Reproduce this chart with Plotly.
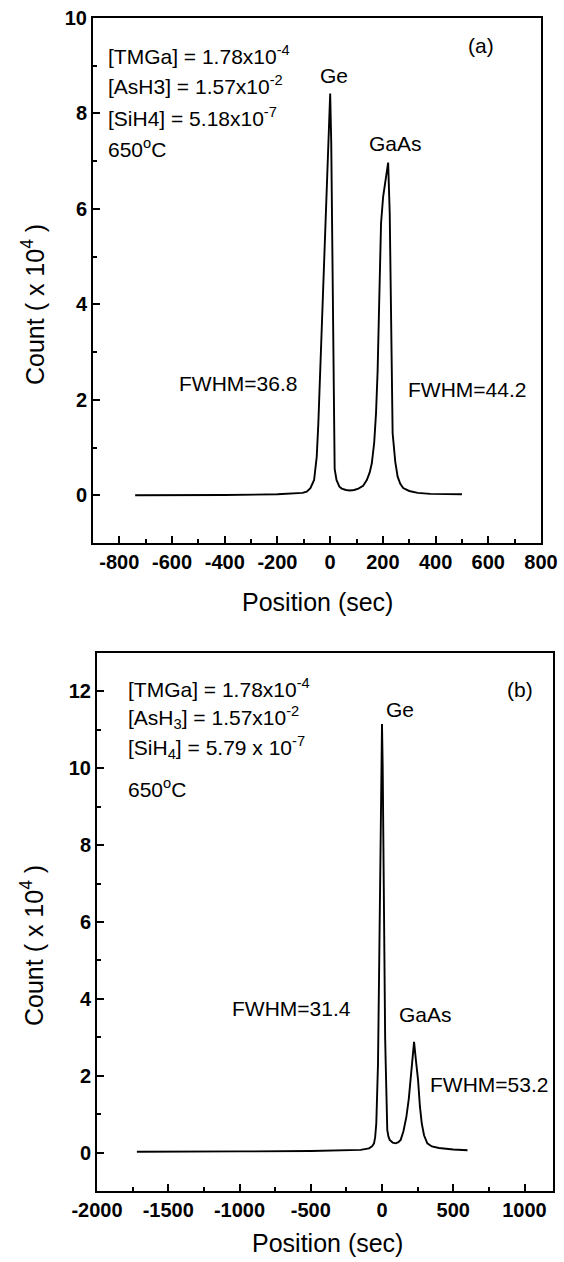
import plotly.graph_objects as go

# Panel (a): depth profile, [SiH4] = 5.18e-7
pos_a = [-740, -600, -400, -200, -150, -105, -89, -75, -61, -56, -51, -45, -39, -27,
         -13, 0, 4, 9, 12, 14, 17, 24, 35, 44, 60, 75, 91, 107, 125, 139, 150, 158,
         167, 174, 180, 185, 189, 193, 201, 220, 226, 230, 233, 237, 247, 256, 266,
         277, 300, 332, 380, 440, 500]
count_a = [0.0, 0.0, 0.005, 0.02, 0.03, 0.05, 0.075, 0.15, 0.32, 0.55, 0.81, 1.5, 2.41, 4.51,
           6.5, 8.42, 7.4, 4.5, 2.4, 0.9, 0.55, 0.32, 0.18, 0.14, 0.11, 0.10, 0.11, 0.14, 0.20, 0.32, 0.48, 0.67,
           1.1, 1.72, 2.6, 3.8, 4.6, 5.7, 6.26, 6.97, 5.9, 4.5, 3.4, 1.3, 0.7, 0.39, 0.24,
           0.15, 0.09, 0.05, 0.03, 0.02, 0.02]

# Panel (b): [SiH4] = 5.79e-7
pos_b = [-1720, -1500, -1000, -500, -300, -150, -91, -70, -56, -48, -40, -34, -28, -21,
         -12, -5, 0, 5, 10, 16, 22, 26, 31, 37, 45, 54, 75, 96, 115, 131, 150, 171,
         188, 201, 215, 225, 238, 253, 266, 279, 295, 318, 350, 400, 500, 600]
count_b = [0.02, 0.02, 0.03, 0.04, 0.05, 0.07, 0.11, 0.16, 0.24, 0.4, 0.76, 1.4, 2.32, 4.5,
           7.5, 10.0, 11.15, 10.0, 7.5, 4.5, 3.0, 2.32, 1.3, 0.59, 0.42, 0.33, 0.26, 0.24, 0.27, 0.33, 0.55, 0.93,
           1.4, 1.89, 2.45, 2.88, 2.4, 1.89, 1.2, 0.76, 0.45, 0.24, 0.16, 0.12, 0.08, 0.06]

# tick positions and labels (plain hyphen for negatives)
xticks_a = [-800, -600, -400, -200, 0, 200, 400, 600, 800]
xlabels_a = ["-800", "-600", "-400", "-200", "0", "200", "400", "600", "800"]
yticks_a = [0, 2, 4, 6, 8, 10]
xticks_b = [-2000, -1500, -1000, -500, 0, 500, 1000]
xlabels_b = ["-2000", "-1500", "-1000", "-500", "0", "500", "1000"]
yticks_b = [0, 2, 4, 6, 8, 10, 12]

params_a = ["[TMGa] = 1.78x10<sup>-4</sup>", "[AsH3] = 1.57x10<sup>-2</sup>",
            "[SiH4] = 5.18x10<sup>-7</sup>", "650<sup>o</sup>C"]
params_b = ["[TMGa] = 1.78x10<sup>-4</sup>", "[AsH<sub>3</sub>] = 1.57x10<sup>-2</sup>",
            "[SiH<sub>4</sub>] = 5.79 x 10<sup>-7</sup>", "650<sup>o</sup>C"]

W, H = 564, 1262
FONT = "Liberation Sans, Arial, Helvetica, sans-serif"


def px(x):
    return x / W


def py(y):
    return 1 - y / H


fig = go.Figure()
fig.add_trace(go.Scatter(x=pos_a, y=count_a, mode="lines",
                         line=dict(color="black", width=1.9), xaxis="x", yaxis="y"))
fig.add_trace(go.Scatter(x=pos_b, y=count_b, mode="lines",
                         line=dict(color="black", width=1.9), xaxis="x2", yaxis="y2"))

axis_common = dict(showline=True, linewidth=2, linecolor="black", mirror=True,
                   ticks="inside", ticklen=7, tickwidth=1.5, tickcolor="black",
                   showgrid=False, zeroline=False, automargin=False,
                   tickfont=dict(family=FONT, size=20, color="black", weight="bold"))


def minor(step):
    return dict(ticks="inside", ticklen=4, tickwidth=1.5, dtick=step, tickcolor="black")


fig.update_layout(
    width=W, height=H, autosize=False,
    margin=dict(l=0, r=0, t=0, b=0),
    paper_bgcolor="white", plot_bgcolor="white",
    showlegend=False,
    xaxis=dict(domain=[px(93), px(541)], range=[-900, 800], tickmode="array",
               tickvals=xticks_a, ticktext=xlabels_a, anchor="y",
               minor=dict(minor(100), tick0=-900), **axis_common),
    yaxis=dict(domain=[py(543), py(18)], range=[-1, 10], tickmode="array",
               tickvals=yticks_a, anchor="x", minor=minor(1), **axis_common),
    xaxis2=dict(domain=[px(97), px(553)], range=[-2000, 1200], tickmode="array",
                tickvals=xticks_b, ticktext=xlabels_b, anchor="y2",
                minor=minor(250), **axis_common),
    yaxis2=dict(domain=[py(1191), py(653)], range=[-1, 13], tickmode="array",
                tickvals=yticks_b, anchor="x2", minor=minor(1), **axis_common),
)

txt = dict(family=FONT, size=21, color="black")
ann = []


def label(x, y, text, ref, **kw):
    d = dict(x=x, y=y, xref="x" + ref, yref="y" + ref, text=text, showarrow=False,
             xanchor="center", yanchor="middle", font=txt)
    d.update(kw)
    ann.append(d)


# panel (a)
for t, v in zip(params_a, [9.22, 8.60, 7.93, 7.28]):
    label(-851, v, t, "", xanchor="left")
label(572, 9.43, "(a)", "")
label(14, 8.80, "Ge", "")
label(246, 7.38, "GaAs", "")
label(-350, 2.35, "FWHM=36.8", "")
label(519, 2.21, "FWHM=44.2", "")

# panel (b)
for t, v in zip(params_b, [12.09, 11.33, 10.53, 9.49]):
    label(-1796, v, t, "2", xanchor="left")
label(968, 12.06, "(b)", "2")
label(126, 11.52, "Ge", "2")
label(302, 3.58, "GaAs", "2")
label(-632, 3.76, "FWHM=31.4", "2")
label(751, 1.76, "FWHM=53.2", "2")

# axis titles
title_font = dict(family=FONT, size=25, color="black")
for x, y, text, angle in [(317, 602, "Position (sec)", 0),
                          (33, 305, "Count ( x 10<sup>4</sup> )", -90),
                          (327, 1243, "Position (sec)", 0),
                          (32, 946, "Count ( x 10<sup>4</sup> )", -90)]:
    ann.append(dict(x=px(x), y=py(y), xref="paper", yref="paper", text=text,
                    showarrow=False, textangle=angle, xanchor="center", yanchor="middle",
                    font=title_font))

fig.update_layout(annotations=ann)

fig.write_html("out.html")
